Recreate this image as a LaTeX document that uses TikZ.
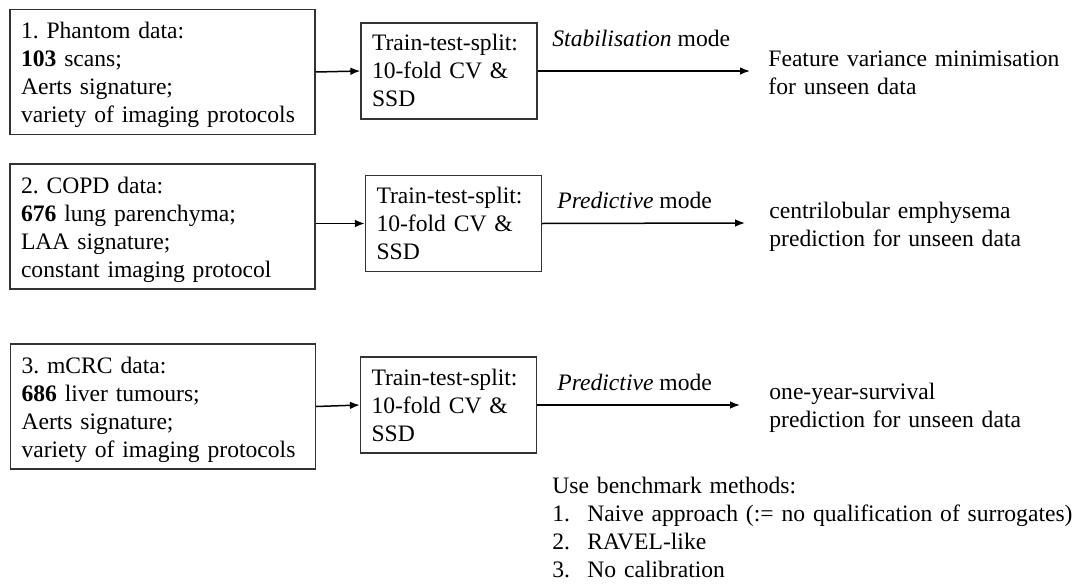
\documentclass[tikz,border=0pt]{standalone}
\usepackage{fontspec}
\setmainfont{Liberation Serif}
\usetikzlibrary{arrows.meta}
\frenchspacing
\begin{document}
\begin{tikzpicture}[x=0.5pt,y=-0.5pt,
  every node/.style={font=\fontsize{11.8pt}{14pt}\selectfont},
  bigbox/.style={draw=black!80, line width=0.6pt, align=left, text width=141.5pt,
    inner xsep=5.5pt, inner ysep=0pt, text height=14.75pt, text depth=47.75pt},
  splitbox/.style={draw=black!80, line width=0.6pt, align=left, text width=77pt,
    inner xsep=5.5pt, inner ysep=0pt, text height=14pt, text depth=34pt},
  plain/.style={align=left, inner sep=0pt, anchor=base west},
  conn/.style={line width=0.75pt, -{Latex[length=5pt,width=3.8pt]}}]
\useasboundingbox (0,0) rectangle (1079,583);

% data boxes
\node[bigbox] (d1) at (162.5,72) {1. Phantom data:\\\textbf{103} scans;\\Aerts signature;\\variety of imaging protocols};
\node[bigbox] (d2) at (162.5,226.5) {2. COPD data:\\\textbf{676} lung parenchyma;\\LAA signature;\\constant imaging protocol};
\node[bigbox] (d3) at (163,406.5) {3. mCRC data:\\\textbf{686} liver tumours;\\Aerts signature;\\variety of imaging protocols};

% split boxes
\node[splitbox] (s1) at (449,71) {Train-test-split:\\10-fold CV \&\\SSD};
\node[splitbox] (s2) at (453.5,223.5) {Train-test-split:\\10-fold CV \&\\SSD};
\node[splitbox] (s3) at (448.5,405) {Train-test-split:\\10-fold CV \&\\SSD};

% mode labels
\node[plain] (m1) at (552,47) {\textit{Stabilisation} mode};
\node[plain] (m2) at (557,208) {\textit{Predictive} mode};
\node[plain] (m3) at (557,390) {\textit{Predictive} mode};

% outcomes
\node[plain, text width=160pt] (o1) at (768,67) {Feature variance minimisation\\for unseen data};
\node[plain, text width=160pt] (o2) at (769,218) {centrilobular emphysema\\prediction for unseen data};
\node[plain, text width=160pt] (o3) at (769,399) {one-year-survival\\prediction for unseen data};

% benchmark list
\node[plain, text width=270pt] (bench) at (552,493) {Use benchmark methods:\\
\makebox[17.5pt][l]{1.}Naive approach (:= no qualification of surrogates)\\
\makebox[17.5pt][l]{2.}RAVEL-like\\
\makebox[17.5pt][l]{3.}No calibration};

% connectors
\coordinate (e1) at (750,71);
\coordinate (e2) at (745,223);
\coordinate (e3) at (740,405);
\draw[conn] (d1.east) -- (s1.west);
\draw[conn] (d2.east |- s2.west) -- (s2.west);
\draw[conn] (d3.east) -- (s3.west);
\draw[conn] (s1.east) -- (e1);
\draw[conn] (s2.east) -- (e2);
\draw[conn] (s3.east) -- (e3);
\end{tikzpicture}
\end{document}
